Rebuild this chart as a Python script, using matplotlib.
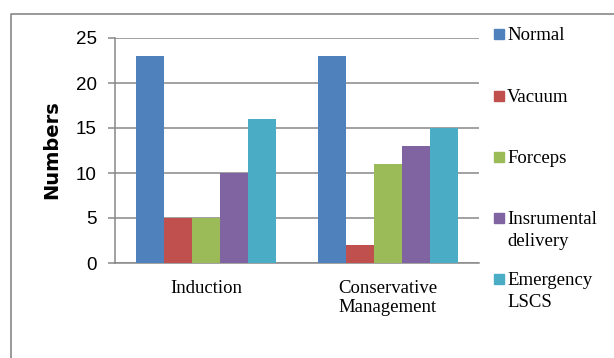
import matplotlib
matplotlib.use("Agg")
import matplotlib.pyplot as plt
import numpy as np
from matplotlib.patches import Rectangle
from matplotlib.lines import Line2D

categories = ["Induction", "Conservative\nManagement"]
series = ["Normal", "Vacuum", "Forceps", "Insrumental\ndelivery", "Emergency\nLSCS"]
values = {
    "Normal": [23, 23],
    "Vacuum": [5, 2],
    "Forceps": [5, 11],
    "Insrumental\ndelivery": [10, 13],
    "Emergency\nLSCS": [16, 15],
}
colors = ["#4F81BD", "#C0504D", "#9BBB59", "#8064A2", "#4BACC6"]
yticks = [0, 5, 10, 15, 20, 25]

W, H = 614, 358
fig = plt.figure(figsize=(W / 100, H / 100), dpi=100)

def fx(px):
    return px / W

def fy(py):
    return 1 - py / H

ax = fig.add_axes([fx(115), fy(263), fx(479) - fx(115), fy(38) - fy(263)])

grid_c = "#888888"
n = len(series)
bw = 0.154
x = np.arange(len(categories))
for i, s in enumerate(series):
    ax.bar(x + (i - (n - 1) / 2) * bw, values[s], width=bw, color=colors[i],
           edgecolor="none", zorder=3)

ax.set_xlim(-0.5, len(categories) - 0.5)
ax.set_ylim(0, 25)
ax.set_yticks(yticks)
ax.set_yticklabels([str(v) for v in yticks], fontfamily="Liberation Sans", fontsize=13.5, color="#000000")
ax.set_xticks(x)
ax.set_xticklabels(categories, fontfamily="Liberation Serif", fontsize=13.5, linespacing=1.15)
ax.tick_params(axis="x", length=0, pad=12)
ax.tick_params(axis="y", length=5, width=1.1, color=grid_c, pad=8)
ax.grid(axis="y", color=grid_c, linewidth=1.1, zorder=0)
for sp in ["top", "right"]:
    ax.spines[sp].set_visible(False)
ax.spines["left"].set_color(grid_c)
ax.spines["left"].set_linewidth(1.1)
ax.spines["bottom"].set_color(grid_c)
ax.spines["bottom"].set_linewidth(1.1)

ax.set_ylabel("Numbers", fontfamily="DejaVu Sans", fontweight="bold", fontsize=14)
ax.yaxis.set_label_coords(-(115 - 52) / (479 - 115), (263 - 150) / (263 - 38))
ax.yaxis.label.set_va("center")

# legend drawn manually
leg_y = [34, 96, 157, 218, 279]
for i, s in enumerate(series):
    cy = leg_y[i]
    fig.patches.append(Rectangle((fx(494), fy(cy + 5)), fx(10), fy(cy - 5) - fy(cy + 5),
                                 transform=fig.transFigure, color=colors[i]))
    for k, line in enumerate(s.split("\n")):
        fig.text(fx(507), fy(cy + 6 + 22 * k), line, fontfamily="Liberation Serif",
                 fontsize=13.5, va="baseline", ha="left")

# outer frame
fig.lines.append(Line2D([fx(11), fx(11), fx(640)], [fy(400), fy(14), fy(14)],
                        transform=fig.transFigure, color=grid_c, linewidth=1.2))

fig.savefig("out.png", dpi=100)
